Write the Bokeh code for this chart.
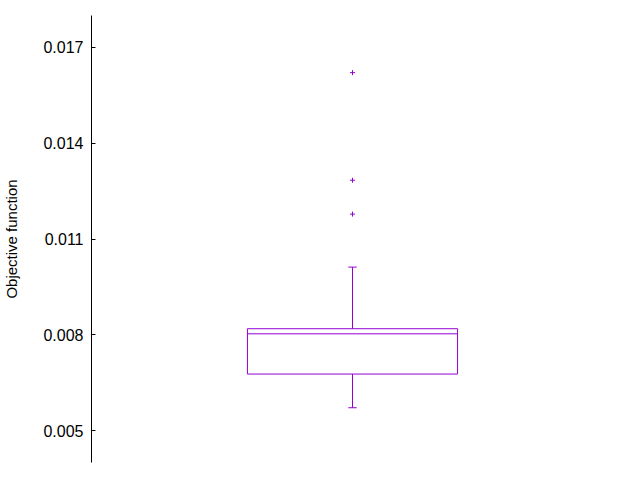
from bokeh.plotting import figure
from bokeh.models import Range1d, FixedTicker
from bokeh.embed import file_html
from bokeh.resources import INLINE

# Data
category_x = [1.0]
q1 = [0.00677]
median = [0.00803]
q3 = [0.00819]
whisker_low = [0.005715]
whisker_high = [0.01012]
outlier_x = [1.0, 1.0, 1.0]
outliers = [0.01621, 0.01284, 0.01178]
y_ticks = [0.005, 0.008, 0.011, 0.014, 0.017]

COLOR = "#9400D3"
FONT = "Liberation Sans"

p = figure(width=624, height=470, output_backend="svg", toolbar_location=None,
           x_axis_location=None, x_range=Range1d(0, 2), y_range=Range1d(0.004, 0.018),
           min_border_left=91, min_border_right=11, min_border_top=15, min_border_bottom=8)
p.outline_line_color = None
p.xgrid.visible = False
p.ygrid.visible = False

bw = 0.805
cap = 0.032
x0 = [x - bw / 2 for x in category_x]
x1 = [x + bw / 2 for x in category_x]

# whiskers
p.segment(x0=category_x, y0=q3, x1=category_x, y1=whisker_high, line_color=COLOR, line_width=1)
p.segment(x0=category_x, y0=q1, x1=category_x, y1=whisker_low, line_color=COLOR, line_width=1)
p.segment(x0=[x - cap / 2 for x in category_x], y0=whisker_high,
          x1=[x + cap / 2 for x in category_x], y1=whisker_high, line_color=COLOR, line_width=1)
p.segment(x0=[x - cap / 2 for x in category_x], y0=whisker_low,
          x1=[x + cap / 2 for x in category_x], y1=whisker_low, line_color=COLOR, line_width=1)
# box
p.quad(left=x0, right=x1, bottom=q1, top=q3, fill_color=None, line_color=COLOR, line_width=1)
p.segment(x0=x0, y0=median, x1=x1, y1=median, line_color=COLOR, line_width=1)
# outliers
p.scatter(x=outlier_x, y=outliers, marker="cross", size=5, line_color=COLOR, line_width=1)

ax = p.yaxis[0]
ax.ticker = FixedTicker(ticks=y_ticks)
ax.major_tick_in = 4
ax.major_tick_out = 0
ax.minor_tick_in = 0
ax.minor_tick_out = 0
ax.axis_line_color = "black"
ax.major_tick_line_color = "black"
ax.major_label_text_font = FONT
ax.major_label_text_font_size = "16px"
ax.major_label_text_color = "black"
ax.major_label_standoff = 8
ax.axis_label = "Objective function"
ax.axis_label_text_font = FONT
ax.axis_label_text_font_size = "15px"
ax.axis_label_text_font_style = "normal"
ax.axis_label_text_color = "black"
ax.axis_label_standoff = 20

open("out.html", "w").write(file_html(p, INLINE))
